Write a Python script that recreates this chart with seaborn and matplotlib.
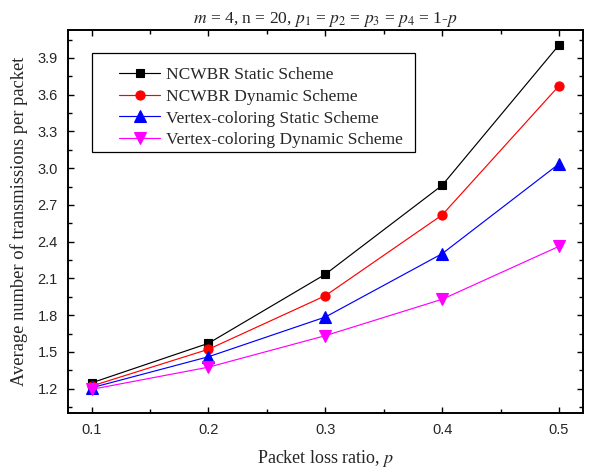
import numpy as np
import pandas as pd
import matplotlib
matplotlib.use("Agg")
import matplotlib.pyplot as plt
from matplotlib.patches import Rectangle
from matplotlib.ticker import MultipleLocator
import seaborn as sns

# Packet loss ratios and average transmissions per packet for each scheme
loss_ratio = [0.1, 0.2, 0.3, 0.4, 0.5]
ncwbr_static = [1.248, 1.571, 2.134, 2.860, 4.005]
ncwbr_dynamic = [1.222, 1.522, 1.959, 2.618, 3.672]
vertex_static = [1.208, 1.461, 1.785, 2.302, 3.035]
vertex_dynamic = [1.195, 1.376, 1.633, 1.930, 2.362]

scheme_names = [
    "NCWBR Static Scheme",
    "NCWBR Dynamic Scheme",
    "Vertex-coloring Static Scheme",
    "Vertex-coloring Dynamic Scheme",
]
series = [ncwbr_static, ncwbr_dynamic, vertex_static, vertex_dynamic]
colors = ["#000000", "#ff0000", "#0000ff", "#ff00ff"]
markers = ["s", "o", "^", "v"]
marker_sizes = [6.0, 6.6, 8.0, 8.0]

x_ticks = [0.1, 0.2, 0.3, 0.4, 0.5]
y_ticks = [1.2, 1.5, 1.8, 2.1, 2.4, 2.7, 3.0, 3.3, 3.6, 3.9]

frames = []
for name, vals in zip(scheme_names, series):
    frames.append(pd.DataFrame({"p": loss_ratio, "avg": vals, "scheme": name}))
df = pd.concat(frames, ignore_index=True)

sns.set_style("ticks")
plt.rcParams["font.family"] = ["Liberation Serif", "DejaVu Serif"]
plt.rcParams["mathtext.fontset"] = "stix"

fig = plt.figure(figsize=(5.9, 4.68), dpi=100)
ax = fig.add_axes([0.1147, 0.117, 0.988 - 0.1147, 0.9365 - 0.117])

for name, color, mk, ms in zip(scheme_names, colors, markers, marker_sizes):
    sub = df[df["scheme"] == name]
    sns.lineplot(data=sub, x="p", y="avg", ax=ax, color=color, marker=mk,
                 markersize=ms, markeredgecolor=color, markeredgewidth=0.8,
                 linewidth=0.85, label=name, errorbar=None)

ax.set_xlim(0.0795, 0.5205)
ax.set_ylim(1.0, 4.13)
ax.set_xticks(x_ticks)
ax.set_yticks(y_ticks)
ax.set_xticklabels([f"{v:.1f}" for v in x_ticks], family="Liberation Sans", fontsize=10.5)
ax.set_yticklabels([f"{v:.1f}" for v in y_ticks], family="Liberation Sans", fontsize=10.5)
ax.xaxis.set_minor_locator(MultipleLocator(0.05))
ax.yaxis.set_minor_locator(MultipleLocator(0.15))
ax.tick_params(which="both", direction="in", top=True, right=True, color="black", width=1.0)
ax.tick_params(which="major", length=4.6, pad=7)
ax.tick_params(which="minor", length=2.6)
for sp in ax.spines.values():
    sp.set_color("black")
    sp.set_linewidth(1.4)

ax.set_xlabel(r"Packet loss ratio, $p$", fontsize=13, labelpad=8)
ax.set_ylabel("Average number of transmissions per packet", fontsize=13.3, labelpad=7)
ax.set_title(r"$m$ = 4, n = 20, $p_{\mathit{1}}$ = $p_{\mathit{2}}$ = $p_{\mathit{3}}$ = $p_{\mathit{4}}$ = 1-$p$",
             fontsize=12.6, pad=5)

# Legend box drawn as a plain rectangle, entries placed inside it without a frame
ax.add_patch(Rectangle((0.047, 0.939 - 0.258), 0.627, 0.258, transform=ax.transAxes,
                       facecolor="white", edgecolor="black", linewidth=0.9, zorder=4))
leg = ax.legend(loc="upper left", bbox_to_anchor=(0.100, 0.902), fontsize=12.5,
                frameon=False, handlelength=2.35, handletextpad=0.35,
                borderpad=0, labelspacing=0.31, borderaxespad=0)
leg.set_zorder(5)

fig.savefig("out.png", dpi=100)
